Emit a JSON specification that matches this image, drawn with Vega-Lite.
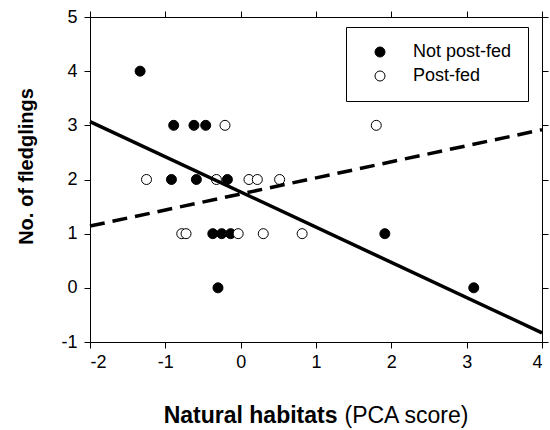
{
  "$schema": "https://vega.github.io/schema/vega-lite/v6.json",
  "width": 452,
  "height": 325,
  "autosize": {"type": "none"},
  "padding": {"left": 90, "top": 17, "right": 8, "bottom": 88},
  "background": "white",
  "config": {
    "font": "Liberation Sans",
    "view": {"stroke": "black", "strokeWidth": 1},
    "axis": {"grid": false, "domain": false, "ticks": true, "tickColor": "black", "tickWidth": 1, "tickSize": 6, "labelColor": "black", "titleColor": "black", "labelFontSize": 18, "labelFont": "Liberation Sans", "titleFont": "Liberation Sans"}
  },
  "datasets": {
    "points": [
      {"x": -1.335, "y": 4, "group": "Not post-fed"},
      {"x": -0.889, "y": 3, "group": "Not post-fed"},
      {"x": -0.62, "y": 3, "group": "Not post-fed"},
      {"x": -0.464, "y": 3, "group": "Not post-fed"},
      {"x": -0.919, "y": 2, "group": "Not post-fed"},
      {"x": -0.588, "y": 2, "group": "Not post-fed"},
      {"x": -0.176, "y": 2, "group": "Not post-fed"},
      {"x": -0.37, "y": 1, "group": "Not post-fed"},
      {"x": -0.252, "y": 1, "group": "Not post-fed"},
      {"x": -0.133, "y": 1, "group": "Not post-fed"},
      {"x": -0.301, "y": 0, "group": "Not post-fed"},
      {"x": 1.914, "y": 1, "group": "Not post-fed"},
      {"x": 3.094, "y": 0, "group": "Not post-fed"},
      {"x": -1.25, "y": 2, "group": "Post-fed"},
      {"x": -0.208, "y": 3, "group": "Post-fed"},
      {"x": -0.322, "y": 2, "group": "Post-fed"},
      {"x": 0.11, "y": 2, "group": "Post-fed"},
      {"x": 0.221, "y": 2, "group": "Post-fed"},
      {"x": 0.517, "y": 2, "group": "Post-fed"},
      {"x": -0.782, "y": 1, "group": "Post-fed"},
      {"x": -0.725, "y": 1, "group": "Post-fed"},
      {"x": -0.033, "y": 1, "group": "Post-fed"},
      {"x": 0.3, "y": 1, "group": "Post-fed"},
      {"x": 0.816, "y": 1, "group": "Post-fed"},
      {"x": 1.8, "y": 3, "group": "Post-fed"}
    ],
    "solid": [
      {"x": -2, "y": 3.07},
      {"x": 4, "y": -0.83}
    ],
    "dashed": [
      {"x": -2, "y": 1.14},
      {"x": 4, "y": 2.92}
    ]
  },
  "layer": [
    {
      "data": {"name": "points"},
      "mark": {"type": "circle", "stroke": "black", "strokeWidth": 1, "size": 100, "opacity": 1},
      "encoding": {
        "x": {"field": "x", "type": "quantitative", "scale": {"domain": [-2, 4], "nice": false},
          "axis": {"orient": "bottom", "values": [-2, -1, 0, 1, 2, 3, 4], "labelPadding": 5, "labelExpr": "datum.value + ''", "title": "Natural habitats", "titleFontSize": 23, "titleFontWeight": "bold", "titleAlign": "right", "titleX": 247, "titleY": 80, "titleBaseline": "alphabetic"}},
        "y": {"field": "y", "type": "quantitative", "scale": {"domain": [-1, 5], "nice": false},
          "axis": {"orient": "left", "values": [-1, 0, 1, 2, 3, 4, 5], "labelPadding": 7, "labelExpr": "datum.value + ''", "title": "No. of fledglings", "titleFontSize": 20, "titleFontWeight": "bold", "titleAlign": "center", "titleAngle": -90, "titleX": -58, "titleY": 149, "titleBaseline": "alphabetic"}},
        "fill": {"field": "group", "type": "nominal",
          "scale": {"domain": ["Not post-fed", "Post-fed"], "range": ["black", "white"]},
          "legend": {"title": null, "orient": "none", "legendX": 256, "legendY": 10, "strokeColor": "black", "fillColor": "white", "padding": 16, "symbolOffset": 9, "labelOffset": 24, "labelFontSize": 18, "labelColor": "black", "symbolType": "circle", "symbolSize": 100, "symbolStrokeColor": "black", "symbolStrokeWidth": 1, "rowPadding": 6, "labelExpr": "datum.label + '   '"}}
      }
    },
    {
      "data": {"name": "solid"},
      "mark": {"type": "line", "stroke": "black", "strokeWidth": 3.5},
      "encoding": {
        "x": {"field": "x", "type": "quantitative", "scale": {"domain": [-2, 4], "nice": false},
          "axis": {"orient": "top", "values": [-2, -1, 0, 1, 2, 3, 4], "labels": false, "title": null}},
        "y": {"field": "y", "type": "quantitative", "scale": {"domain": [-1, 5], "nice": false},
          "axis": {"orient": "right", "values": [-1, 0, 1, 2, 3, 4, 5], "labels": false, "title": null}}
      }
    },
    {
      "data": {"name": "dashed"},
      "mark": {"type": "line", "stroke": "black", "strokeWidth": 3.5, "strokeDash": [15, 8]},
      "encoding": {
        "x": {"field": "x", "type": "quantitative", "scale": {"domain": [-2, 4], "nice": false},
          "axis": {"orient": "bottom", "labels": false, "ticks": false, "title": "(PCA score)", "titleFontSize": 23, "titleFontWeight": "normal", "titleAlign": "left", "titleX": 254, "titleY": 80, "titleBaseline": "alphabetic"}},
        "y": {"field": "y", "type": "quantitative", "scale": {"domain": [-1, 5], "nice": false}, "axis": null}
      }
    }
  ],
  "resolve": {"axis": {"x": "independent", "y": "independent"}}
}
